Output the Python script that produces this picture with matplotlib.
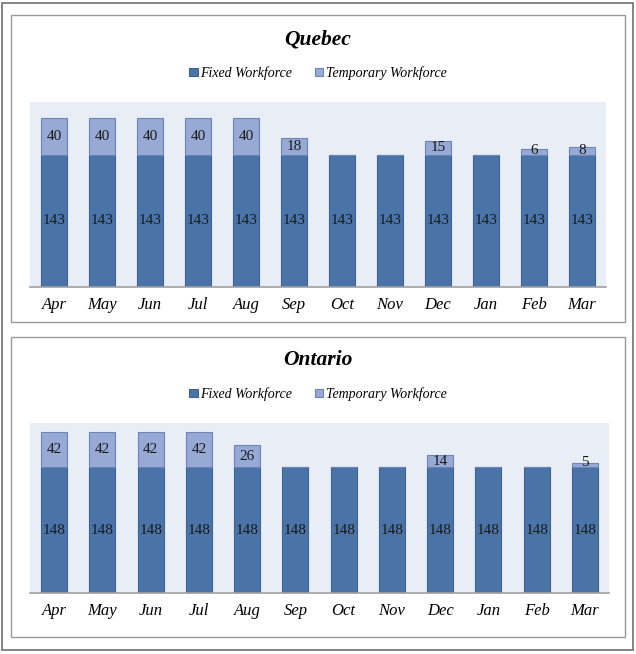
import matplotlib.pyplot as plt
from matplotlib.patches import Rectangle
import numpy as np

months = ["Apr", "May", "Jun", "Jul", "Aug", "Sep", "Oct", "Nov", "Dec", "Jan", "Feb", "Mar"]
quebec_fixed = [143] * 12
quebec_temp = [40, 40, 40, 40, 40, 18, 0, 0, 15, 0, 6, 8]
ontario_fixed = [148] * 12
ontario_temp = [42, 42, 42, 42, 26, 0, 0, 0, 14, 0, 0, 5]

plt.rcParams['font.family'] = ['Liberation Serif', 'DejaVu Serif']

fixed_color = "#4A74A8"
temp_color = "#97AAD6"
bg_color = "#E9EDF5"

W, H = 636, 654
fig = plt.figure(figsize=[6.36, 6.54], dpi=100)


def box(x0, y0, x1, y1, lw=1.0, color="#808080"):
    fig.patches.append(Rectangle((x0 / W, 1 - y1 / H), (x1 - x0) / W, (y1 - y0) / H,
                                 transform=fig.transFigure, fill=False,
                                 edgecolor=color, linewidth=lw))


box(2, 3, 633, 650, lw=1.2, color="#707070")
box(11, 15, 625, 322, lw=1.0, color="#9A9A9A")
box(11, 337, 625, 637, lw=1.0, color="#9A9A9A")


def panel(rect, title, fixed, temp, title_y, legend_y):
    x0, y0, x1, y1 = rect
    ax = fig.add_axes([x0 / W, 1 - y1 / H, (x1 - x0) / W, (y1 - y0) / H])
    ax.set_facecolor(bg_color)
    x = np.arange(len(months))
    b1 = ax.bar(x, fixed, width=0.54, color=fixed_color, edgecolor="#3D6393",
                linewidth=0.8, label="Fixed Workforce")
    b2 = ax.bar(x, temp, width=0.54, bottom=fixed, color=temp_color, edgecolor="#6A85B8",
                linewidth=0.8, label="Temporary Workforce")
    for i in range(len(months)):
        ax.text(x[i], fixed[i] / 2, str(fixed[i]), ha="center", va="center",
                fontsize=11, color="#1a1a1a")
        if temp[i] > 0:
            ax.text(x[i], fixed[i] + max(temp[i], 10) / 2, str(temp[i]), ha="center",
                    va="center", fontsize=11, color="#1a1a1a")
    ax.set_ylim(0, 200)
    ax.set_xlim(-0.5, 11.5)
    ax.set_yticks([])
    ax.set_xticks(x)
    ax.set_xticklabels(months, fontsize=12, style="italic")
    ax.tick_params(axis="x", length=0, pad=7)
    for s in ["top", "left", "right"]:
        ax.spines[s].set_visible(False)
    ax.spines["bottom"].set_color("#A0A0A0")
    ax.spines["bottom"].set_linewidth(1.2)
    fig.text(0.5, 1 - title_y / H, title, ha="center", va="center",
             fontsize=15.5, fontweight="bold", style="italic")
    fig.legend(handles=[b1, b2], loc="center", bbox_to_anchor=(0.5, 1 - legend_y / H),
               ncol=2, frameon=False, prop={"size": 10, "style": "italic"},
               handlelength=0.6, handleheight=0.6, handletextpad=0.2, columnspacing=1.6)
    return ax


panel((30, 102, 606, 287), "Quebec", quebec_fixed, quebec_temp, 40, 73)
panel((30, 423, 609, 593), "Ontario", ontario_fixed, ontario_temp, 360, 394)

plt.savefig("out.png", dpi=100)
